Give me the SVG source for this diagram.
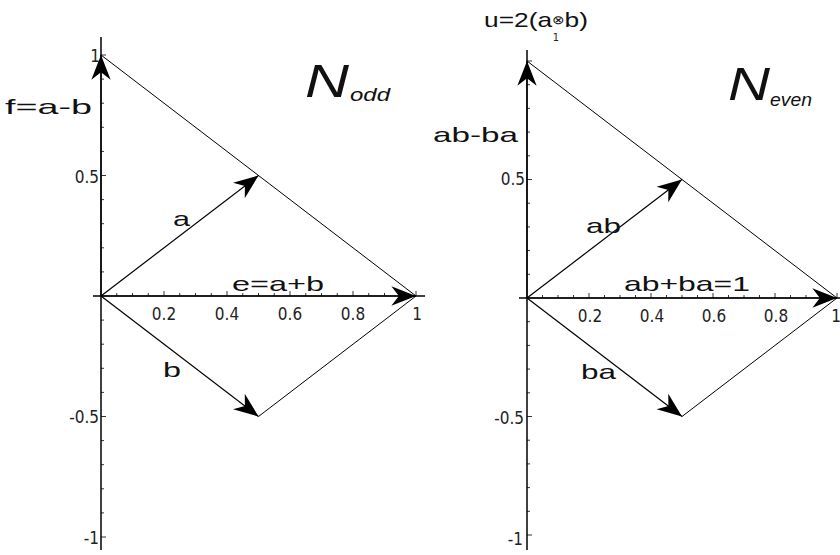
<svg xmlns="http://www.w3.org/2000/svg" width="840" height="555" viewBox="0 0 840 555">
<style>
.ax{stroke:#000;stroke-width:1.5;fill:none}
.tk{stroke:#000;stroke-width:0.8;fill:none}
.vec{stroke:#000;stroke-width:1.2;fill:none;marker-end:url(#ah)}
.ln{stroke:#000;stroke-width:1;fill:none}
.num{font-family:"Liberation Sans Narrow","DejaVu Sans Condensed",sans-serif;font-size:17px;fill:#222}
.lab{font-family:"Liberation Sans",Arial,sans-serif;font-size:21px;fill:#111}
.big{font-family:"Liberation Sans",Arial,sans-serif;font-style:italic;font-size:47px;fill:#111}
.sub{font-family:"Liberation Sans",Arial,sans-serif;font-style:italic;font-size:19px;fill:#111}
</style>
<defs>
<marker id="ah" markerUnits="userSpaceOnUse" markerWidth="30" markerHeight="30" viewBox="-26 -12 28 24" refX="0" refY="0" orient="auto">
<path d="M0,0 L-23,-9 L-16,0 L-23,9 Z" fill="#000"/>
</marker>
</defs>
<rect width="840" height="555" fill="#fff"/>
<g id="left-axes">
<line class="ax" x1="93" y1="296" x2="425" y2="296"/>
<line class="ax" x1="101" y1="37" x2="101" y2="550"/>
<path class="tk" d="M116.75,296v-3M132.5,296v-3M148.25,296v-3M164,296v-5M179.75,296v-3M195.5,296v-3M211.25,296v-3M227,296v-5M242.75,296v-3M258.5,296v-3M274.25,296v-3M290,296v-5M305.75,296v-3M321.5,296v-3M337.25,296v-3M353,296v-5M368.75,296v-3M384.5,296v-3M400.25,296v-3M416,296v-5"/>
<path class="tk" d="M101,271.9h3M101,247.8h3M101,223.7h3M101,199.6h3M101,175.5h5M101,151.4h3M101,127.3h3M101,103.2h3M101,79.1h3M101,55h5M101,320.1h3M101,344.2h3M101,368.3h3M101,392.4h3M101,416.5h5M101,440.6h3M101,464.7h3M101,488.8h3M101,512.9h3M101,537h5"/>
<g class="num" text-anchor="middle">
<text x="164" y="320">0.2</text><text x="227" y="320">0.4</text><text x="290" y="320">0.6</text><text x="353" y="320">0.8</text><text x="417" y="320">1</text>
</g>
<g class="num" text-anchor="end">
<text x="100" y="62">1</text><text x="99" y="183">0.5</text><text x="99" y="423">-0.5</text><text x="99" y="544">-1</text>
</g>
</g>
<g id="right-axes">
<line class="ax" x1="519" y1="298" x2="840" y2="298"/>
<line class="ax" x1="527" y1="50" x2="527" y2="550"/>
<path class="tk" d="M542.5,298v-3M558,298v-3M573.5,298v-3M589,298v-5M604.5,298v-3M620,298v-3M635.5,298v-3M651,298v-5M666.5,298v-3M682,298v-3M697.5,298v-3M713,298v-5M728.5,298v-3M744,298v-3M759.5,298v-3M775,298v-5M790.5,298v-3M806,298v-3M821.5,298v-3M837,298v-5"/>
<path class="tk" d="M527,274.3h3M527,250.6h3M527,226.9h3M527,203.2h3M527,179.5h5M527,155.8h3M527,132.1h3M527,108.4h3M527,84.7h3M527,61h5M527,321.7h3M527,345.4h3M527,369.1h3M527,392.8h3M527,416.5h5M527,440.2h3M527,463.9h3M527,487.6h3M527,511.3h3M527,535h5"/>
<g class="num" text-anchor="middle">
<text x="590" y="322">0.2</text><text x="652" y="322">0.4</text><text x="714" y="322">0.6</text><text x="776" y="322">0.8</text><text x="836" y="322">1</text>
</g>
<text class="num" x="556" y="41" text-anchor="middle" style="font-size:11px">1</text>
<g class="num" text-anchor="end">
<text x="525" y="185">0.5</text><text x="524" y="424">-0.5</text><text x="523" y="545">-1</text>
</g>
</g>
<g id="connectors">
<line class="ln" x1="101" y1="55" x2="416" y2="296"/>
<line class="ln" x1="258.5" y1="416.5" x2="416" y2="296"/>
<line class="vec" x1="101" y1="296" x2="416" y2="296"/>
<line class="vec" x1="101" y1="296" x2="258.5" y2="175.5"/>
<line class="vec" x1="101" y1="296" x2="258.5" y2="416.5"/>
<line class="vec" x1="101" y1="296" x2="101" y2="55"/>
<line class="ln" x1="527" y1="61" x2="837" y2="298"/>
<line class="ln" x1="682" y1="416.5" x2="837" y2="298"/>
<line class="vec" x1="527" y1="298" x2="837" y2="298"/>
<line class="vec" x1="527" y1="298" x2="682" y2="179.5"/>
<line class="vec" x1="527" y1="298" x2="682" y2="416.5"/>
<line class="vec" x1="527" y1="298" x2="527" y2="61"/>
</g>
<g id="label-f"><text class="lab" x="5" y="114" textLength="87" lengthAdjust="spacingAndGlyphs">f=a-b</text></g>
<g id="label-a"><text class="lab" x="173" y="226" textLength="17" lengthAdjust="spacingAndGlyphs">a</text></g>
<g id="label-b"><text class="lab" x="163" y="377" textLength="18" lengthAdjust="spacingAndGlyphs">b</text></g>
<g id="label-e"><text class="lab" x="232" y="291" textLength="92" lengthAdjust="spacingAndGlyphs">e=a+b</text></g>
<g id="label-Nodd"><text class="big" x="305" y="97" textLength="44" lengthAdjust="spacingAndGlyphs">N</text><text class="sub" x="350" y="101" textLength="40" lengthAdjust="spacingAndGlyphs">odd</text></g>
<g id="label-u"><text class="lab" x="484" y="27" textLength="104" lengthAdjust="spacingAndGlyphs">u=2(a<tspan style="font-size:12px" dy="-3">⊗</tspan><tspan dy="3">b)</tspan></text></g>
<g id="label-abba"><text class="lab" x="433" y="142" textLength="85" lengthAdjust="spacingAndGlyphs">ab-ba</text></g>
<g id="label-ab"><text class="lab" x="586" y="233" textLength="35" lengthAdjust="spacingAndGlyphs">ab</text></g>
<g id="label-sum"><text class="lab" x="624" y="291" textLength="126" lengthAdjust="spacingAndGlyphs">ab+ba=1</text></g>
<g id="label-ba"><text class="lab" x="581" y="379" textLength="35" lengthAdjust="spacingAndGlyphs">ba</text></g>
<g id="label-Neven"><text class="big" x="728" y="100" textLength="42" lengthAdjust="spacingAndGlyphs">N</text><text class="sub" x="770" y="106" textLength="42" lengthAdjust="spacingAndGlyphs">even</text></g>
</svg>
